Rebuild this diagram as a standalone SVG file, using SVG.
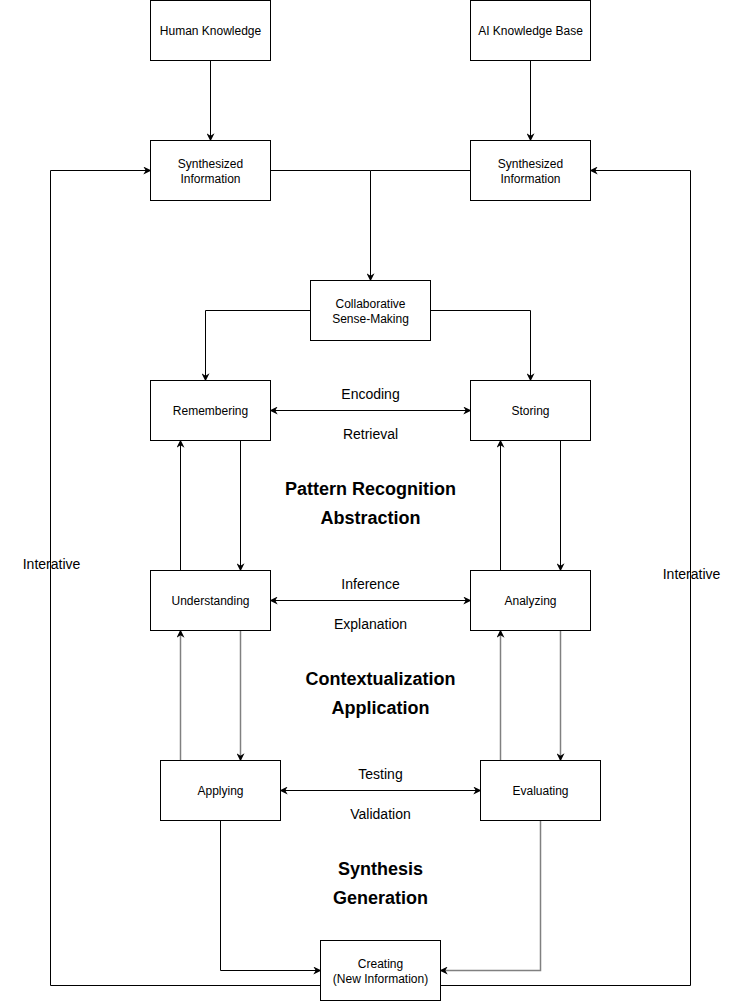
<svg xmlns="http://www.w3.org/2000/svg" width="740" height="1001" viewBox="0 0 740 1001">
<style>
.n{fill:#fff;stroke:#000;stroke-width:1}
.t{font-family:"Liberation Sans",Arial,sans-serif;font-size:12px;fill:#000;text-anchor:middle}
.l{font-family:"Liberation Sans",Arial,sans-serif;font-size:14px;fill:#000;text-anchor:middle}
.b{font-family:"Liberation Sans",Arial,sans-serif;font-size:18px;font-weight:bold;fill:#000;text-anchor:middle}
.c{fill:none;stroke:#000;stroke-width:1}
.g{fill:none;stroke:#808080;stroke-width:1.5}
</style>
<defs>
<marker id="a" viewBox="0 0 10 10" refX="9" refY="5" markerWidth="8" markerHeight="8" markerUnits="userSpaceOnUse" orient="auto-start-reverse">
<path d="M0,0 L10,5 L0,10 L3,5 Z" fill="#000"/>
</marker>
</defs>
<rect width="740" height="1001" fill="#fff"/>
<g transform="translate(0.5,0.5)">
<g id="connectors">
<path class="c" d="M210,60 V140" marker-end="url(#a)"/>
<path class="c" d="M530,60 V140" marker-end="url(#a)"/>
<path class="c" d="M270,170 H370 V280" marker-end="url(#a)"/>
<path class="c" d="M470,170 H370"/>
<path class="c" d="M310,310 H205 V380" marker-end="url(#a)"/>
<path class="c" d="M430,310 H530 V380" marker-end="url(#a)"/>
<path class="c" d="M270,410 H470" marker-start="url(#a)" marker-end="url(#a)"/>
<path class="c" d="M180,570 V440" marker-end="url(#a)"/>
<path class="c" d="M240,440 V570" marker-end="url(#a)"/>
<path class="c" d="M500,570 V440" marker-end="url(#a)"/>
<path class="c" d="M560,440 V570" marker-end="url(#a)"/>
<path class="c" d="M270,600 H470" marker-start="url(#a)" marker-end="url(#a)"/>
<path class="g" d="M180,760 V630" marker-end="url(#a)"/>
<path class="g" d="M240,630 V760" marker-end="url(#a)"/>
<path class="g" d="M500,760 V630" marker-end="url(#a)"/>
<path class="g" d="M560,630 V760" marker-end="url(#a)"/>
<path class="c" d="M280,790 H480" marker-start="url(#a)" marker-end="url(#a)"/>
<path class="c" d="M220,820 V970 H320" marker-end="url(#a)"/>
<path class="g" d="M540,820 V970 H440" marker-end="url(#a)"/>
<path class="c" d="M320,985 H50 V170 H150" marker-end="url(#a)"/>
<path class="c" d="M440,985 H690 V170 H590" marker-end="url(#a)"/>
<text class="l" x="370" y="398">Encoding</text>
<text class="l" x="370" y="438">Retrieval</text>
<text class="l" x="370" y="588">Inference</text>
<text class="l" x="370" y="628">Explanation</text>
<text class="l" x="380" y="778">Testing</text>
<text class="l" x="380" y="818">Validation</text>
<text class="l" x="51" y="568">Interative</text>
<text class="l" x="691" y="578">Interative</text>
</g>
<g id="labels">
<text class="b" x="370" y="494">Pattern Recognition</text>
<text class="b" x="370" y="523">Abstraction</text>
<text class="b" x="380" y="684">Contextualization</text>
<text class="b" x="380" y="713">Application</text>
<text class="b" x="380" y="874">Synthesis</text>
<text class="b" x="380" y="903">Generation</text>
</g>
<g id="human"><rect class="n" x="150" y="0" width="120" height="60"/><text class="t" x="210" y="34">Human Knowledge</text></g>
<g id="ai"><rect class="n" x="470" y="0" width="120" height="60"/><text class="t" x="530" y="34">AI Knowledge Base</text></g>
<g id="synL"><rect class="n" x="150" y="140" width="120" height="60"/><text class="t" x="210" y="167">Synthesized</text><text class="t" x="210" y="182">Information</text></g>
<g id="synR"><rect class="n" x="470" y="140" width="120" height="60"/><text class="t" x="530" y="167">Synthesized</text><text class="t" x="530" y="182">Information</text></g>
<g id="collab"><rect class="n" x="310" y="280" width="120" height="60"/><text class="t" x="370" y="307">Collaborative</text><text class="t" x="370" y="322">Sense-Making</text></g>
<g id="remembering"><rect class="n" x="150" y="380" width="120" height="60"/><text class="t" x="210" y="414">Remembering</text></g>
<g id="storing"><rect class="n" x="470" y="380" width="120" height="60"/><text class="t" x="530" y="414">Storing</text></g>
<g id="understanding"><rect class="n" x="150" y="570" width="120" height="60"/><text class="t" x="210" y="604">Understanding</text></g>
<g id="analyzing"><rect class="n" x="470" y="570" width="120" height="60"/><text class="t" x="530" y="604">Analyzing</text></g>
<g id="applying"><rect class="n" x="160" y="760" width="120" height="60"/><text class="t" x="220" y="794">Applying</text></g>
<g id="evaluating"><rect class="n" x="480" y="760" width="120" height="60"/><text class="t" x="540" y="794">Evaluating</text></g>
<g id="creating"><rect class="n" x="320" y="940" width="120" height="60"/><text class="t" x="380" y="967">Creating</text><text class="t" x="380" y="982">(New Information)</text></g>
</g>
</svg>
